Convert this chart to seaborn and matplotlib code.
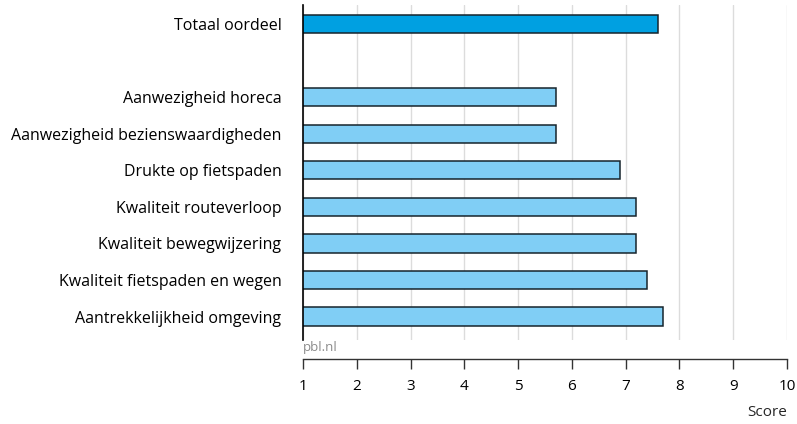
import seaborn as sns
import pandas as pd
import matplotlib.pyplot as plt

# Data
categories = [
    "Totaal oordeel",
    "Aanwezigheid horeca",
    "Aanwezigheid bezienswaardigheden",
    "Drukte op fietspaden",
    "Kwaliteit routeverloop",
    "Kwaliteit bewegwijzering",
    "Kwaliteit fietspaden en wegen",
    "Aantrekkelijkheid omgeving",
]
scores = [7.6, 5.7, 5.7, 6.9, 7.2, 7.2, 7.4, 7.7]
groups = ["totaal", "deel", "deel", "deel", "deel", "deel", "deel", "deel"]
x_ticks = [1, 2, 3, 4, 5, 6, 7, 8, 9, 10]

df = pd.DataFrame({"categorie": categories, "score": scores, "groep": groups})
order = [categories[0], ""] + categories[1:]

sns.set_style("white")
plt.rcParams["font.family"] = ["Open Sans", "DejaVu Sans"]

fig = plt.figure(figsize=(7.97, 4.24), dpi=100)
ax = fig.add_axes([303 / 797, 1 - 340 / 424, 484 / 797, 335 / 424])

sns.barplot(
    data=df, x="score", y="categorie", hue="groep", order=order,
    palette={"totaal": "#00a0e1", "deel": "#80cef5"}, saturation=1,
    width=0.5, edgecolor="#16242c", linewidth=1.1,
    legend=False, dodge=False, ax=ax,
)

ax.set_xlim(1, 10)
ax.set_ylim(8.64, -0.52)
ax.set_xticks(x_ticks)
ax.set_xticklabels([str(t) for t in x_ticks])
ax.xaxis.grid(True, color="#dcdcdc", linewidth=1)
ax.set_axisbelow(True)

for s in ["top", "right"]:
    ax.spines[s].set_visible(False)
ax.spines["left"].set_color("black")
ax.spines["left"].set_linewidth(1.2)
ax.spines["bottom"].set_position(("outward", 14))
ax.spines["bottom"].set_color("#333333")
ax.spines["bottom"].set_linewidth(1)

ax.tick_params(axis="x", direction="out", length=7, width=1, color="#333333",
               pad=7, labelsize=11, labelcolor="black", bottom=True)
ax.tick_params(axis="y", length=0, pad=15.5, labelsize=11.5, labelcolor="black")

ax.set_ylabel("")
ax.set_xlabel("Score", fontsize=11, loc="right", labelpad=8)

fig.text(303 / 797, 1 - 348 / 424, "pbl.nl", fontsize=9.5, color="#8c8c8c",
         ha="left", va="center")

fig.savefig("out.png", dpi=100)
